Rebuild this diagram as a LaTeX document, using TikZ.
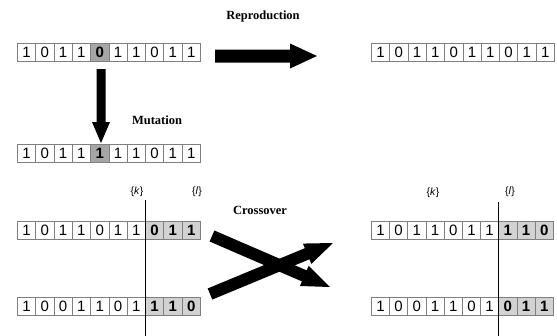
\documentclass[tikz,border=0pt]{standalone}
\usepackage{fontspec}
\setmainfont{Liberation Serif}
\newfontfamily\bitfont{Liberation Sans}
\usetikzlibrary{calc}

\definecolor{cellline}{HTML}{7F7F7F}
\definecolor{mutfill}{HTML}{A6A6A6}
\definecolor{xfill}{HTML}{D2D2D2}

\tikzset{
  cell/.style={draw=cellline, line width=0.7pt, inner sep=0pt,
    minimum height=18pt, anchor=north west, fill=white,
    font=\bitfont\fontsize{15}{15}\selectfont},
  plainbit/.style={},
  mutbit/.style={fill=mutfill, font=\bitfont\bfseries\fontsize{15}{15}\selectfont},
  crossbit/.style={fill=xfill, font=\bitfont\bfseries\fontsize{15}{15}\selectfont},
  oplabel/.style={font=\bfseries\fontsize{12.5}{12.5}\selectfont, inner sep=0pt},
  cutlabel/.style={font=\bitfont\fontsize{10.5}{10.5}\selectfont, inner sep=0pt},
  cutline/.style={line width=0.8pt, black},
}

% a row of bit cells: name, left, top, cell width, list of bit/style
\newcommand\bitrow[5]{%
  \foreach \b/\s [count=\i] in {#5}{
    \node[cell,\s,minimum width=#4pt] (#1-\i) at ({#2+(\i-1)*#4},#3) {\b};
  }}

% block arrow: tail, tip, shaft half width, head half width, head length
\newcommand\fatarrow[5]{%
  \coordinate (hb) at ($(#2)!#5!(#1)$);
  \fill ($(#1)!#3!90:(#2)$) -- ($(hb)!#3!-90:(#1)$) -- ($(hb)!#4!-90:(#1)$)
     -- (#2) -- ($(hb)!#4!90:(#1)$) -- ($(hb)!#3!90:(#1)$)
     -- ($(#1)!#3!-90:(#2)$) -- cycle;}

\begin{document}
\begin{tikzpicture}[x=1pt,y=-1pt]
\useasboundingbox (0,0) rectangle (557,335);

% parent and its copy
\bitrow{par}{17}{43}{18.3}{1/plainbit,0/plainbit,1/plainbit,1/plainbit,0/mutbit,1/plainbit,1/plainbit,0/plainbit,1/plainbit,1/plainbit}
\bitrow{rep}{371}{43}{18.3}{1/plainbit,0/plainbit,1/plainbit,1/plainbit,0/plainbit,1/plainbit,1/plainbit,0/plainbit,1/plainbit,1/plainbit}

% mutated string
\bitrow{mut}{17}{144}{18.3}{1/plainbit,0/plainbit,1/plainbit,1/plainbit,1/mutbit,1/plainbit,1/plainbit,0/plainbit,1/plainbit,1/plainbit}

% crossover parents
\bitrow{pa}{17}{221}{18.3}{1/plainbit,0/plainbit,1/plainbit,1/plainbit,0/plainbit,1/plainbit,1/plainbit,0/crossbit,1/crossbit,1/crossbit}
\bitrow{pb}{17}{297}{18.3}{1/plainbit,0/plainbit,0/plainbit,1/plainbit,1/plainbit,0/plainbit,1/plainbit,1/crossbit,1/crossbit,0/crossbit}

% crossover children
\bitrow{ca}{371}{221}{18.2}{1/plainbit,0/plainbit,1/plainbit,1/plainbit,0/plainbit,1/plainbit,1/plainbit,1/crossbit,1/crossbit,0/crossbit}
\bitrow{cb}{371}{297}{18.2}{1/plainbit,0/plainbit,0/plainbit,1/plainbit,1/plainbit,0/plainbit,1/plainbit,0/crossbit,1/crossbit,1/crossbit}

% operation labels
\node[oplabel] (lrep) at (263,16) {Reproduction};
\node[oplabel] (lmut) at (157,120) {Mutation};
\node[oplabel] (lcross) at (260,210) {Crossover};

% crossing-point markers
\node[cutlabel] (kl) at (137,192) {\{\textit{k}\}};
\node[cutlabel] (ll) at (197,192) {\{\textit{l}\}};
\node[cutlabel] (kr) at (433,193) {\{\textit{k}\}};
\node[cutlabel] (lr) at (510,192) {\{\textit{l}\}};

\coordinate (cutLtop) at ($(pa-8.north west)+(0,-21)$);
\coordinate (cutLbot) at ($(pb-8.south west)+(0,20)$);
\coordinate (cutRtop) at ($(ca-8.north west)+(0,-19)$);
\coordinate (cutRbot) at ($(cb-8.south west)+(0,20)$);
\draw[cutline] (cutLtop) -- (cutLbot);
\draw[cutline] (cutRtop) -- (cutRbot);

% block arrows
\coordinate (repT) at (215,56);
\coordinate (repH) at (317,56);
\fatarrow{repT}{repH}{6.5pt}{12.5pt}{27pt}

\coordinate (mutT) at (101,69);
\coordinate (mutH) at (101,143);
\fatarrow{mutT}{mutH}{4.5pt}{9pt}{21pt}

\coordinate (xaT) at (212,236);
\coordinate (xaH) at (330,287);
\fatarrow{xaT}{xaH}{6pt}{11pt}{28pt}

\coordinate (xbT) at (210,294);
\coordinate (xbH) at (333,243);
\fatarrow{xbT}{xbH}{6pt}{11pt}{28pt}
\end{tikzpicture}
\end{document}
